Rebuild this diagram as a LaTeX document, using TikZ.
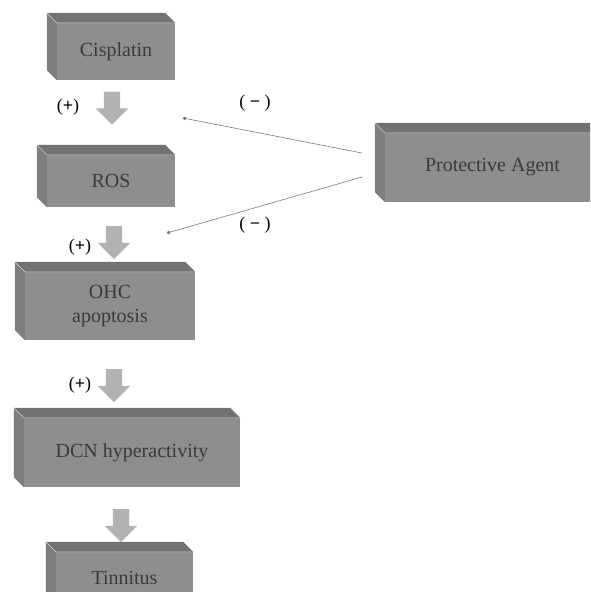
\documentclass[tikz,border=0pt]{standalone}
\usepackage{fontspec}
\setmainfont{Liberation Serif}
\usetikzlibrary{shapes.arrows, positioning, calc, arrows.meta}
\definecolor{slabfront}{HTML}{8E8E8E}
\definecolor{slabtop}{HTML}{727272}
\definecolor{slabside}{HTML}{7E7E7E}
\definecolor{slabtext}{HTML}{3A3A3A}
\definecolor{wiregray}{HTML}{7A7A7A}

% top and left faces behind a front face node
\newcommand{\slabsides}[1]{%
  \fill[slabtop] (#1.north west) -- ++(-10,-10) -- ($(#1.north east)+(-10,-10)$)
    -- (#1.north east) -- cycle;
  \fill[slabside] (#1.north west) -- ++(-10,-10) -- ($(#1.south west)+(-10,-10)$)
    -- (#1.south west) -- cycle;
  \draw[white!60!slabfront, line width=0.6pt] ($(#1.north west)+(-10,-10)$) -- (#1.north west)
    -- (#1.north east);
}

\begin{document}
\begin{tikzpicture}[x=1pt, y=-1pt]
  \tikzset{
    slab/.style={rectangle, fill=slabfront, text=slabtext, align=center,
      inner sep=0pt, font=\fontsize{20}{24}\selectfont},
    pushdown/.style={single arrow, shape border rotate=270, fill=gray!60,
      inner sep=8pt, minimum height=33pt, single arrow head extend=8pt,
      single arrow head indent=0pt},
    sign/.style={font=\fontsize{18}{20}\selectfont, inner sep=1pt},
    wire/.style={draw=wiregray, line width=0.6pt, -{Circle[length=3.5pt]}, shorten <=23pt},
  }
  \useasboundingbox (0,0) rectangle (590,592);
  \begin{scope}
  \clip (0,0) rectangle (590,592);

  \node[slab, minimum width=118pt, minimum height=57pt] (cis) at (116,51.5) {Cisplatin};
  \node[slab, minimum width=128pt, minimum height=52pt] (ros) at (111,181) {ROS};
  \node[slab, minimum width=170pt, minimum height=68pt] (ohc) at (110,306) {OHC\\apoptosis};
  \node[slab, minimum width=216pt, minimum height=69pt] (dcn) at (132,452.5) {DCN hyperactivity};
  \node[slab, minimum width=137pt, minimum height=52pt] (tin) at (124.5,578) {Tinnitus};
  \node[slab, minimum width=215pt, minimum height=69pt] (pa) at (492.5,167.5) {Protective Agent};
  \foreach \n in {cis, ros, ohc, dcn, tin, pa}
    \slabsides{\n};

  \node[pushdown] (a1) at (112,104) {};
  \node[pushdown] (a2) at (114,238.5) {};
  \node[pushdown] (a3) at (114,381.5) {};
  \node[pushdown] (a4) at (121,521.5) {};

  \node[sign] (p1) at (68,107) {(\textbf{+})};
  \node[sign] (p2) at (80,247) {(\textbf{+})};
  \node[sign] (p3) at (80,385) {(\textbf{+})};
  \node[sign] (m1) at (255,103) {( \textbf{−} )};
  \node[sign] (m2) at (255,225) {( \textbf{−} )};

  \coordinate (tipa) at (183,118);
  \coordinate (tipb) at (167,233);
  \draw[wire] ([yshift=10pt]pa.west) -- (tipa);
  \draw[wire] ([yshift=-3pt]pa.west) -- (tipb);
  \end{scope}
\end{tikzpicture}
\end{document}
